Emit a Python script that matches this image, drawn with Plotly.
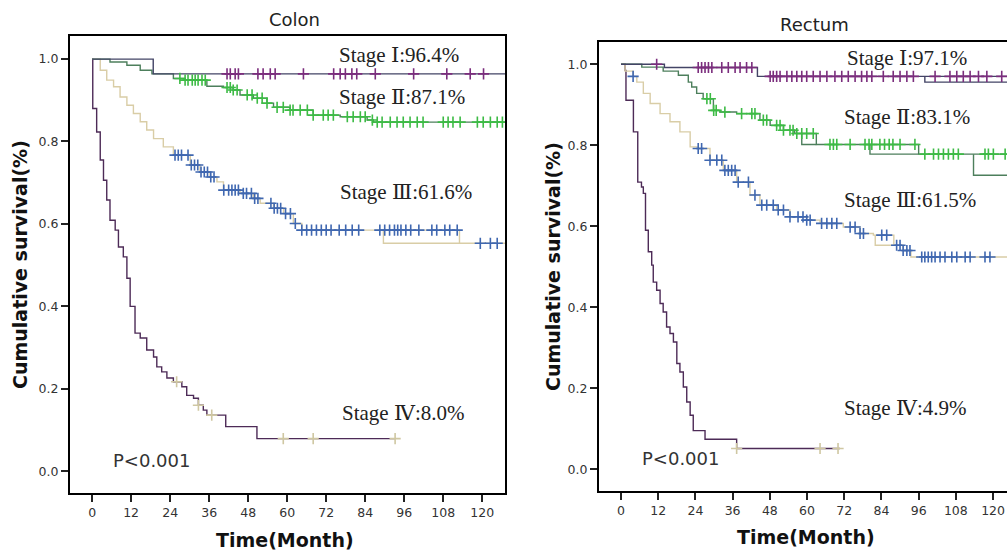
import plotly.graph_objects as go

W, H = 1007, 554

# ---------------- data ----------------
months_ticks = [0, 12, 24, 36, 48, 60, 72, 84, 96, 108, 120]
surv_ticks = [0.0, 0.2, 0.4, 0.6, 0.8, 1.0]

# Colon
colon_s1_t = [0, 18.8]
colon_s1_s = [1.0, 0.964]
colon_s1_end = 127
colon_s1_cens = [41.5, 42.5, 44, 45, 51, 52.6, 54.8, 56.3, 65, 74.3, 76.3, 77.9, 79.9,
                 81.4, 87.1, 98.9, 109.1, 116.3, 120.4]
colon_s1_br_t, colon_s1_br_s = [], []

colon_s2_t = [0, 5.5, 10.7, 14.8, 18.4, 25, 28.6, 35.3, 40.4, 43.4, 45.5, 49.6, 53.8, 55.8,
              60.9, 68, 76.3, 84.6, 86.5]
colon_s2_s = [1.0, 0.993, 0.985, 0.973, 0.964, 0.953, 0.949, 0.934, 0.931, 0.925, 0.913,
              0.905, 0.893, 0.883, 0.876, 0.864, 0.86, 0.852, 0.847]
colon_s2_end = 127
colon_s2_cens = [27, 28.6, 29.5, 30.8, 31.7, 32.6, 33.8, 34.8, 41.5, 42.5, 43.4, 44.6, 47.7,
                 49.2, 50.8, 52.3, 53.8, 56.9, 58.8, 60.9, 61.8, 64, 66.2, 68, 71.1, 72.6,
                 74.2, 78.5, 80.3, 82.5, 84, 86.2, 87.7, 89.2, 91.7, 93.8, 95.7, 97.8, 100,
                 101.8, 108, 109.5, 111, 113.2, 118.5, 120.3, 122.5, 124.6, 126.2]
colon_s2_br_t, colon_s2_br_s = [], []

colon_s3_t = [0, 2.5, 4.5, 6.6, 8.6, 10.7, 12.7, 14.8, 16.8, 18.9, 21.9, 25, 30.2, 33.2,
              36.3, 38.4, 40.4, 45.5, 49.6, 51.7, 55.8, 58.9, 61.9, 64.5, 113]
colon_s3_s = [1.0, 0.973, 0.949, 0.933, 0.908, 0.888, 0.868, 0.848, 0.828, 0.807, 0.787,
              0.767, 0.743, 0.726, 0.714, 0.702, 0.682, 0.674, 0.662, 0.65, 0.638, 0.625,
              0.601, 0.585, 0.553]
colon_s3_end = 127
colon_s3_cens = [25.5, 26.5, 27.5, 29.5, 30.5, 31.5, 32.5, 33.5, 34.5, 35.5, 36.5, 37.5,
                 40.5, 42, 43, 44, 45, 46.5, 47.5, 49, 50, 51, 55, 56, 57, 58, 59.5, 61,
                 62.5, 64.5, 66, 67.5, 69, 70.5, 72, 73.5, 76, 78, 80, 82, 88.5, 90, 91.5,
                 93, 94, 95, 96.5, 98, 100.5, 104.5, 106, 108.5, 110, 112.3, 119.4, 122.5,
                 124.6]
colon_s3_br_t, colon_s3_br_s = [89.6], [0.553]

colon_s4_t = [0, 0.2, 1.4, 2.5, 3.5, 4.5, 5.5, 7.1, 8.1, 9.6, 10.7, 11.7, 13.2, 14.8, 16.8,
              18.9, 19.9, 21.4, 23, 25, 27.6, 29.1, 31.2, 32.7, 34.2, 35.3, 41.1, 50.7]
colon_s4_s = [1.0, 0.88, 0.823, 0.755, 0.706, 0.658, 0.609, 0.585, 0.544, 0.52, 0.468, 0.40,
              0.335, 0.323, 0.294, 0.277, 0.253, 0.241, 0.226, 0.217, 0.205, 0.184, 0.177,
              0.16, 0.148, 0.136, 0.108, 0.079]
colon_s4_end = 93.2
colon_s4_cens = [26, 32.7, 36.8, 58.8, 68, 93.2]
colon_s4_br_t, colon_s4_br_s = [], []

# Rectum
rect_s1_t = [0, 14, 44]
rect_s1_s = [1.0, 0.992, 0.970]
rect_s1_end = 124.5
rect_s1_cens = [11.5, 24.9, 26, 27.1, 28.2, 29.3, 32.5, 34.6, 36.8, 38.4, 40.5, 42.2, 48.1,
                49.1, 50.2, 51.3, 53.5, 55.1, 56.7, 58.3, 59.9, 62, 64.2, 66.4, 69, 71.2,
                73.3, 75.5, 77.6, 79.3, 80.9, 84.6, 87.8, 90, 92.2, 94.3, 101.3, 106.1,
                108.3, 110.4, 112.6, 115.3, 118, 122.8]
rect_s1_br_t, rect_s1_br_s = [98], [0.956]

rect_s2_t = [0, 6.7, 13.6, 18.5, 21.7, 22.8, 24.4, 26.5, 29.8, 31.9, 37.3, 44.8, 48.1, 52.4,
             56, 63, 96]
rect_s2_s = [1.0, 0.993, 0.983, 0.973, 0.956, 0.944, 0.928, 0.915, 0.886, 0.882, 0.878,
             0.862, 0.849, 0.837, 0.829, 0.802, 0.778]
rect_s2_end = 124.5
rect_s2_cens = [27.7, 28.8, 29.9, 30.7, 33.5, 38.9, 42.2, 43.2, 45.9, 47, 50.2, 51.3, 52.4,
                54.5, 55.5, 56.7, 58.3, 59.9, 62, 67.4, 68.5, 69.6, 73.9, 78.7, 80, 80.9,
                83.5, 85, 86.5, 87.7, 90, 94.8, 98, 100.8, 102.4, 104, 105.6, 107.2, 108.8,
                117.4, 118.5, 120.1, 123.9]
rect_s2_br_t, rect_s2_br_s = [58.3, 80.3, 113.7], [0.802, 0.778, 0.726]

rect_s3_t = [0, 1.3, 3.9, 5.1, 7.2, 9.4, 12.6, 15.8, 19, 22.3, 24.9, 28.7, 33, 37.3, 41.6,
             44.8, 50.2, 54.5, 59.9, 64.2, 71.7, 77.1, 81.4, 88, 91, 93.5]
rect_s3_s = [1.0, 0.983, 0.97, 0.956, 0.928, 0.903, 0.878, 0.858, 0.833, 0.796, 0.792,
             0.763, 0.738, 0.709, 0.677, 0.652, 0.64, 0.623, 0.615, 0.607, 0.598, 0.582,
             0.578, 0.553, 0.54, 0.524]
rect_s3_end = 124.5
rect_s3_cens = [3.9, 24.9, 26, 28.7, 30.9, 32.5, 33.5, 34.6, 35.7, 36.8, 37.8, 41.1, 43.2,
                45.4, 47, 49.1, 50.7, 52.4, 54.5, 57.1, 58.7, 59.9, 61, 64.7, 66.4, 68,
                69.6, 73.9, 75.5, 77.1, 78.2, 84.1, 85.7, 88.9, 90, 91, 92.2, 93.2, 97, 98,
                99.1, 100.2, 101.3, 102.9, 104.5, 106.7, 108.3, 111, 112.6, 117.4, 119]
rect_s3_br_t, rect_s3_br_s = [82], [0.553]

rect_s4_t = [0, 1.3, 1.6, 4.0, 5.4, 6.6, 7.2, 7.9, 8.8, 9.9, 10.4, 11.5, 12.6, 13.6, 14.7,
             15.8, 16.9, 18, 19, 20.1, 21.2, 22.3, 23.3, 27.1, 37.3]
rect_s4_s = [1.0, 0.985, 0.911, 0.833, 0.709, 0.697, 0.681, 0.59, 0.537, 0.504, 0.462,
             0.442, 0.409, 0.388, 0.351, 0.335, 0.314, 0.261, 0.24, 0.203, 0.166, 0.133,
             0.095, 0.074, 0.051]
rect_s4_end = 70.6
rect_s4_cens = [37.3, 64.2, 70]
rect_s4_br_t, rect_s4_br_s = [], []

labels_colon = ["Stage Ⅰ:96.4%", "Stage Ⅱ:87.1%", "Stage Ⅲ:61.6%", "Stage Ⅳ:8.0%"]
labels_rect = ["Stage Ⅰ:97.1%", "Stage Ⅱ:83.1%", "Stage Ⅲ:61.5%", "Stage Ⅳ:4.9%"]
p_text = "P<0.001"

# ---------------- styles ----------------
LINE_COL = ["#434466", "#4d7f5c", "#d9cda6", "#4d2b57"]
MARK_COL = ["#7b2d7d", "#3dbb45", "#3f67b0", "#cfc7a2"]


def surv_at(ts, ss, t):
    v = ss[0]
    for ti, si in zip(ts, ss):
        if ti <= t:
            v = si
        else:
            break
    return v


fig = go.Figure()


def add_curve(ts, ss, end, cens, br_t, br_s, k, xa, ya):
    # main step line
    fig.add_trace(go.Scatter(x=list(ts) + [end], y=list(ss) + [ss[-1]], mode="lines",
                             line=dict(color=LINE_COL[k], width=1.4, shape="hv"),
                             xaxis=xa, yaxis=ya, showlegend=False, hoverinfo="skip"))
    # extra drawn drops (line falls before the censor marks do)
    for bt, bs in zip(br_t, br_s):
        stop = end
        for ti, si in zip(ts, ss):
            if ti > bt and si <= bs:
                stop = ti
                break
        fig.add_trace(go.Scatter(x=[bt, bt, stop], y=[surv_at(ts, ss, bt), bs, bs],
                                 mode="lines", line=dict(color=LINE_COL[k], width=1.4),
                                 xaxis=xa, yaxis=ya, showlegend=False, hoverinfo="skip"))
    return [surv_at(ts, ss, c) for c in cens]


def add_marks(cens, ys, k, xa, ya):
    fig.add_trace(go.Scatter(x=cens, y=ys, mode="markers",
                             marker=dict(symbol="cross-thin", size=8,
                                         line=dict(color=MARK_COL[k], width=1.6)),
                             xaxis=xa, yaxis=ya, showlegend=False, hoverinfo="skip"))


colon = [
    (colon_s1_t, colon_s1_s, colon_s1_end, colon_s1_cens, colon_s1_br_t, colon_s1_br_s),
    (colon_s2_t, colon_s2_s, colon_s2_end, colon_s2_cens, colon_s2_br_t, colon_s2_br_s),
    (colon_s3_t, colon_s3_s, colon_s3_end, colon_s3_cens, colon_s3_br_t, colon_s3_br_s),
    (colon_s4_t, colon_s4_s, colon_s4_end, colon_s4_cens, colon_s4_br_t, colon_s4_br_s),
]
rect = [
    (rect_s1_t, rect_s1_s, rect_s1_end, rect_s1_cens, rect_s1_br_t, rect_s1_br_s),
    (rect_s2_t, rect_s2_s, rect_s2_end, rect_s2_cens, rect_s2_br_t, rect_s2_br_s),
    (rect_s3_t, rect_s3_s, rect_s3_end, rect_s3_cens, rect_s3_br_t, rect_s3_br_s),
    (rect_s4_t, rect_s4_s, rect_s4_end, rect_s4_cens, rect_s4_br_t, rect_s4_br_s),
]

for group, xa, ya in [(colon, "x", "y"), (rect, "x2", "y2")]:
    pending = []
    for k in [3, 2, 1, 0]:
        ts, ss, end, cens, bt, bs = group[k]
        ys = add_curve(ts, ss, end, cens, bt, bs, k, xa, ya)
        pending.append((cens, ys, k))
    for cens, ys, k in pending:
        add_marks(cens, ys, k, xa, ya)


def px(x):
    return x / W


def py(y):
    return 1 - y / H


tick_font = dict(family="DejaVu Sans", size=12.5, color="#333333")
axis_common = dict(showgrid=False, zeroline=False, showline=True, linecolor="black",
                   linewidth=2, ticks="outside", ticklen=7, tickwidth=1.5,
                   tickcolor="#222222", tickfont=tick_font)

fig.update_layout(
    width=W, height=H, margin=dict(l=0, r=0, t=0, b=0),
    paper_bgcolor="white", plot_bgcolor="white",
    xaxis=dict(domain=[px(70), px(505)], range=[-6.8, 127], tickvals=months_ticks,
               mirror=True, anchor="y", **axis_common),
    yaxis=dict(domain=[py(493), py(36)], range=[-0.053, 1.056], tickvals=surv_ticks,
               tickformat=".1f", mirror=True, anchor="x", **axis_common),
    xaxis2=dict(domain=[px(599), 1.0], range=[-7.1, 124.5], tickvals=months_ticks,
                mirror=True, anchor="y2", **axis_common),
    yaxis2=dict(domain=[py(491), py(42)], range=[-0.054, 1.055], tickvals=surv_ticks,
                tickformat=".1f", mirror=False, anchor="x2", **axis_common),
)

serif = dict(family="Liberation Serif, DejaVu Serif, serif", size=21, color="#222222")
sans_title = dict(family="DejaVu Sans", size=18, color="#222222")
bold_title = dict(family="DejaVu Sans", size=19, color="#111111", weight="bold")
ptxt = dict(family="DejaVu Sans", size=18, color="#333333")

ann = []
# titles
ann.append(dict(x=px(294), y=py(20), text="Colon", font=sans_title))
ann.append(dict(x=px(814), y=py(25), text="Rectum", font=sans_title))
# axis titles
ann.append(dict(x=px(20), y=py(265), text="Cumulative survival(%)", font=bold_title,
                textangle=-90))
ann.append(dict(x=px(553), y=py(267), text="Cumulative survival(%)", font=bold_title,
                textangle=-90))
ann.append(dict(x=px(285), y=py(540), text="Time(Month)", font=bold_title))
ann.append(dict(x=px(806), y=py(537), text="Time(Month)", font=bold_title))
# stage labels
for txt, (lx, ly) in zip(labels_colon, [(337, 55), (337, 97), (338, 192), (340, 413)]):
    ann.append(dict(x=px(lx), y=py(ly), text=txt, font=serif, xanchor="left"))
for txt, (lx, ly) in zip(labels_rect, [(845, 58), (842, 117), (842, 200), (842, 408)]):
    ann.append(dict(x=px(lx), y=py(ly), text=txt, font=serif, xanchor="left"))
ann.append(dict(x=px(111), y=py(460), text=p_text, font=ptxt, xanchor="left"))
ann.append(dict(x=px(640), y=py(458), text=p_text, font=ptxt, xanchor="left"))

for a in ann:
    a.setdefault("xanchor", "center")
    a.update(xref="paper", yref="paper", yanchor="middle", showarrow=False)
fig.update_layout(annotations=ann)

fig.write_html("out.html", config={"displayModeBar": False},
               post_script="document.body.style.margin='0';"
                           "document.body.style.overflow='hidden';")
